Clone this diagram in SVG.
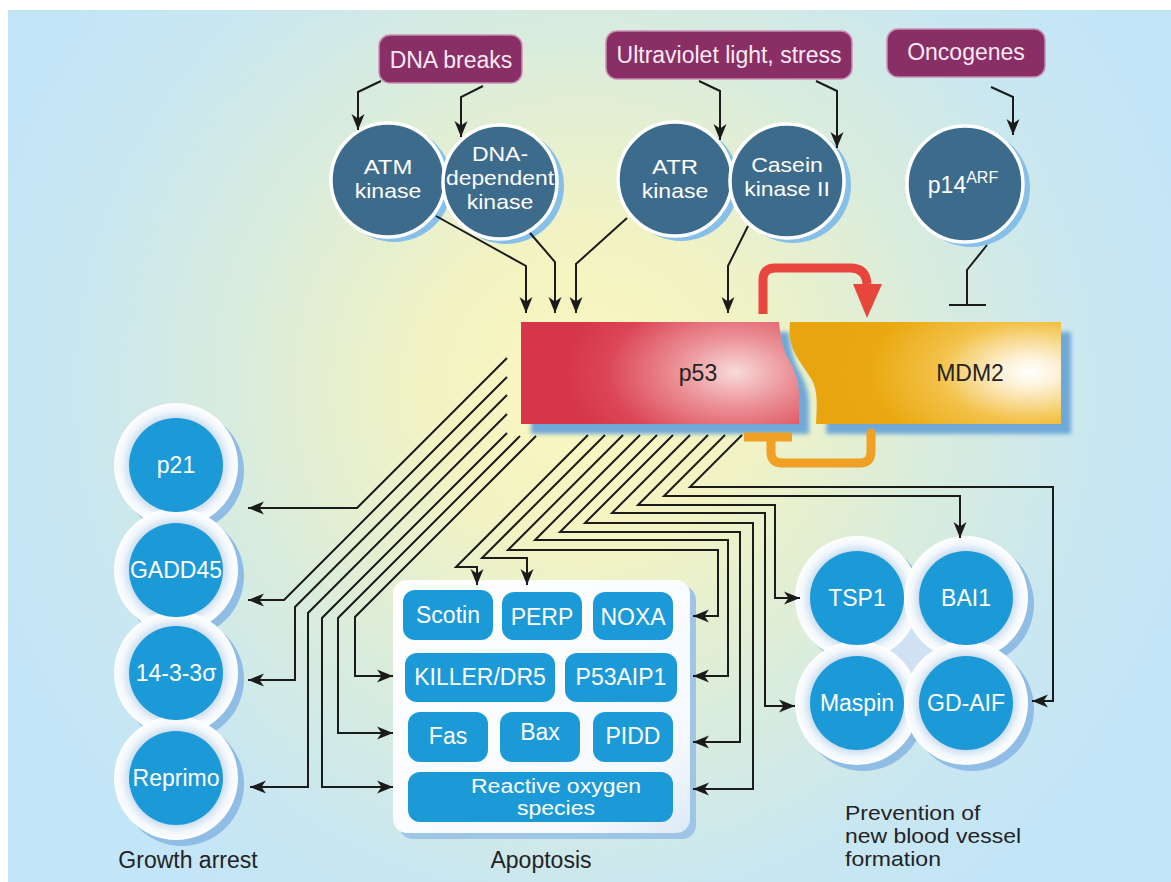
<svg xmlns="http://www.w3.org/2000/svg" width="1171" height="882" viewBox="0 0 1171 882">
<defs>
<radialGradient id="bg" gradientUnits="userSpaceOnUse" cx="585" cy="390" r="640">
<stop offset="0" stop-color="#fbf8bf"/>
<stop offset="0.25" stop-color="#f2f3c3"/>
<stop offset="0.55" stop-color="#d9ecdd"/>
<stop offset="0.8" stop-color="#c9e7f1"/>
<stop offset="1" stop-color="#c2e5f8"/>
</radialGradient>
<radialGradient id="p53g" gradientUnits="userSpaceOnUse" cx="735" cy="372" r="170" gradientTransform="translate(735 372) scale(1 0.6) translate(-735 -372)">
<stop offset="0" stop-color="#f8dada"/>
<stop offset="0.35" stop-color="#eb8f95"/>
<stop offset="0.75" stop-color="#dc4657"/>
<stop offset="1" stop-color="#d6364a"/>
</radialGradient>
<radialGradient id="mdmg" gradientUnits="userSpaceOnUse" cx="1030" cy="372" r="200" gradientTransform="translate(1030 372) scale(1 0.55) translate(-1030 -372)">
<stop offset="0" stop-color="#ffffff"/>
<stop offset="0.15" stop-color="#fdf1d4"/>
<stop offset="0.45" stop-color="#f3c24a"/>
<stop offset="0.8" stop-color="#eaa912"/>
<stop offset="1" stop-color="#e8a510"/>
</radialGradient>
<radialGradient id="ring" cx="0.5" cy="0.5" r="0.5">
<stop offset="0.74" stop-color="#c9dcef"/>
<stop offset="0.88" stop-color="#f2f7fc"/>
<stop offset="1" stop-color="#ffffff"/>
</radialGradient>
<linearGradient id="boxg" x1="0" y1="0" x2="1" y2="1">
<stop offset="0" stop-color="#ffffff"/>
<stop offset="0.8" stop-color="#f6f9fd"/>
<stop offset="1" stop-color="#dce9f6"/>
</linearGradient>
<filter id="soft" x="-10%" y="-10%" width="120%" height="130%"><feGaussianBlur stdDeviation="2"/></filter>
<marker id="ah" markerUnits="userSpaceOnUse" markerWidth="18" markerHeight="14" refX="16" refY="7" orient="auto">
<path d="M0,0.5 L16,7 L0,13.5 L4.5,7 Z" fill="#1b1b1b"/>
</marker>
<style>
.ln{fill:none;stroke:#1b1b1b;stroke-width:2;marker-end:url(#ah)}
.lnp{fill:none;stroke:#1b1b1b;stroke-width:2}
.pbox{fill:#8a2e66;stroke:#c690b3;stroke-width:1.5}
.ptxt{fill:#f8eaf3;font-family:"Liberation Sans",Arial,sans-serif;font-size:23px;text-anchor:middle}
.dk{fill:#3d6b8c;stroke:#ffffff;stroke-width:3.5}
.dks{fill:#86bfe8}
.wt{fill:#ffffff;font-family:"Liberation Sans",Arial,sans-serif;font-size:23px;text-anchor:middle}
.wt2{fill:#ffffff;font-family:"Liberation Sans",Arial,sans-serif;font-size:21px;text-anchor:middle}
.wt3{fill:#ffffff;font-family:"Liberation Sans",Arial,sans-serif;font-size:19.5px;text-anchor:middle}
.bl{fill:#1c9ad8}
.halo{fill:url(#ring)}
.hsh{fill:#8fbde6}
.lbl{fill:#232323;font-family:"Liberation Sans",Arial,sans-serif;font-size:23px}
.lbl2{fill:#232323;font-family:"Liberation Sans",Arial,sans-serif;font-size:20.5px}
.dtx{fill:#232323;font-family:"Liberation Sans",Arial,sans-serif;font-size:23px;text-anchor:middle}
</style>
</defs>
<rect x="0" y="0" width="1171" height="882" fill="#ffffff"/>
<rect x="8" y="10" width="1163" height="872" fill="url(#bg)"/>

<!-- stimuli -->
<g id="dna-breaks"><rect class="pbox" x="379" y="35" width="143" height="48" rx="11"/><text class="ptxt" x="451" y="68">DNA breaks</text></g>
<g id="uv-stress"><rect class="pbox" x="606" y="31" width="246" height="48" rx="11"/><text class="ptxt" x="729" y="63">Ultraviolet light, stress</text></g>
<g id="oncogenes"><rect class="pbox" x="887" y="29" width="158" height="48" rx="11"/><text class="ptxt" x="966" y="60">Oncogenes</text></g>

<!-- kinases -->
<g id="atm"><circle class="dks" cx="394" cy="184" r="58"/><circle class="dk" cx="388" cy="180" r="57"/><text class="wt2" x="388" y="174" textLength="48.6" lengthAdjust="spacingAndGlyphs">ATM</text><text class="wt2" x="388" y="198" textLength="66.5" lengthAdjust="spacingAndGlyphs">kinase</text></g>
<g id="dna-pk"><circle class="dks" cx="506" cy="186" r="58"/><circle class="dk" cx="500" cy="182" r="57"/><text class="wt2" x="500" y="161" textLength="56.2" lengthAdjust="spacingAndGlyphs">DNA-</text><text class="wt2" x="500" y="185" textLength="108" lengthAdjust="spacingAndGlyphs">dependent</text><text class="wt2" x="500" y="209" textLength="66.5" lengthAdjust="spacingAndGlyphs">kinase</text></g>
<g id="atr"><circle class="dks" cx="681" cy="183" r="58"/><circle class="dk" cx="675" cy="179" r="57"/><text class="wt2" x="675" y="174" textLength="46" lengthAdjust="spacingAndGlyphs">ATR</text><text class="wt2" x="675" y="198" textLength="66.5" lengthAdjust="spacingAndGlyphs">kinase</text></g>
<g id="ck2"><circle class="dks" cx="793" cy="185" r="58"/><circle class="dk" cx="787" cy="181" r="57"/><text class="wt2" x="787" y="172" textLength="71.6" lengthAdjust="spacingAndGlyphs">Casein</text><text class="wt2" x="787" y="196" textLength="85.7" lengthAdjust="spacingAndGlyphs">kinase II</text></g>
<g id="p14arf"><circle class="dks" cx="971" cy="188" r="59"/><circle class="dk" cx="965" cy="184" r="58"/><text class="wt" x="963" y="193">p14<tspan font-size="16" dy="-10">ARF</tspan></text></g>

<!-- p53 / MDM2 -->
<g id="p53">
<path d="M531 332 H789 C791 350 793 360 800 372 C807 385 809 395 809 405 V434 H531 Z" fill="#6fa9d8" filter="url(#soft)"/>
<path d="M521 322 H779 C781 340 783 350 790 362 C797 375 799 385 799 395 V424 H521 Z" fill="url(#p53g)"/>
<text class="dtx" x="698" y="381">p53</text>
</g>
<g id="mdm2">
<path d="M800 332 H1071 V434 H826 C827 415 828 402 822 390 C810 370 797 360 800 332 Z" fill="#6fa9d8" filter="url(#soft)"/>
<path d="M790 322 H1061 V424 H816 C817 405 818 392 812 380 C800 360 787 350 790 322 Z" fill="url(#mdmg)"/>
<text class="dtx" x="970" y="381">MDM2</text>
</g>

<!-- growth arrest -->
<g id="growth-halo">
<circle class="hsh" cx="182" cy="471" r="62"/><circle class="hsh" cx="182" cy="576" r="62"/><circle class="hsh" cx="182" cy="679" r="62"/><circle class="hsh" cx="182" cy="784" r="62"/>
<circle class="halo" cx="176" cy="465" r="62"/><circle class="halo" cx="176" cy="570" r="62"/><circle class="halo" cx="176" cy="673" r="62"/><circle class="halo" cx="176" cy="778" r="62"/>
</g>
<g id="p21"><circle class="bl" cx="176" cy="465" r="47"/><text class="wt" x="176" y="473">p21</text></g>
<g id="gadd45"><circle class="bl" cx="176" cy="570" r="47"/><text class="wt" x="176" y="578">GADD45</text></g>
<g id="s14-3-3"><circle class="bl" cx="176" cy="673" r="47"/><text class="wt" x="176" y="681">14-3-3σ</text></g>
<g id="reprimo"><circle class="bl" cx="176" cy="778" r="47"/><text class="wt" x="176" y="786">Reprimo</text></g>
<text class="lbl" x="188" y="868" text-anchor="middle">Growth arrest</text>

<!-- apoptosis -->
<g id="apoptosis">
<rect x="399" y="586" width="297" height="253" rx="14" fill="#9ec4e6"/>
<rect x="393" y="580" width="297" height="253" rx="14" fill="url(#boxg)"/>
<g id="scotin"><rect class="bl" x="403" y="590" width="90" height="50" rx="12"/><text class="wt" x="448" y="623">Scotin</text></g>
<g id="perp"><rect class="bl" x="502" y="592" width="80" height="48" rx="12"/><text class="wt" x="542" y="625">PERP</text></g>
<g id="noxa"><rect class="bl" x="593" y="592" width="80" height="48" rx="12"/><text class="wt" x="633" y="625">NOXA</text></g>
<g id="killer"><rect class="bl" x="405" y="653" width="150" height="49" rx="12"/><text class="wt" x="480" y="685">KILLER/DR5</text></g>
<g id="p53aip1"><rect class="bl" x="565" y="653" width="112" height="49" rx="12"/><text class="wt" x="621" y="685">P53AIP1</text></g>
<g id="fas"><rect class="bl" x="408" y="712" width="80" height="50" rx="12"/><text class="wt" x="448" y="744">Fas</text></g>
<g id="bax"><rect class="bl" x="500" y="712" width="80" height="50" rx="12"/><text class="wt" x="540" y="740">Bax</text></g>
<g id="pidd"><rect class="bl" x="593" y="712" width="80" height="50" rx="12"/><text class="wt" x="633" y="744">PIDD</text></g>
<g id="ros"><rect class="bl" x="408" y="772" width="265" height="50" rx="12"/><text class="wt3" x="556" y="793" textLength="170" lengthAdjust="spacingAndGlyphs">Reactive oxygen</text><text class="wt3" x="556" y="815" textLength="78" lengthAdjust="spacingAndGlyphs">species</text></g>
</g>
<text class="lbl" x="541" y="868" text-anchor="middle">Apoptosis</text>

<!-- angiogenesis -->
<g id="angio-halo">
<circle class="hsh" cx="863" cy="604" r="62"/><circle class="hsh" cx="972" cy="604" r="62"/><circle class="hsh" cx="863" cy="709" r="62"/><circle class="hsh" cx="972" cy="709" r="62"/>
<circle cx="912" cy="651" r="34" fill="#cfe2f3"/>
<circle class="halo" cx="857" cy="598" r="62"/><circle class="halo" cx="966" cy="598" r="62"/><circle class="halo" cx="857" cy="703" r="62"/><circle class="halo" cx="966" cy="703" r="62"/>
</g>
<g id="tsp1"><circle class="bl" cx="857" cy="598" r="47"/><text class="wt" x="857" y="606">TSP1</text></g>
<g id="bai1"><circle class="bl" cx="966" cy="598" r="47"/><text class="wt" x="966" y="606">BAI1</text></g>
<g id="maspin"><circle class="bl" cx="857" cy="703" r="47"/><text class="wt" x="857" y="711">Maspin</text></g>
<g id="gd-aif"><circle class="bl" cx="966" cy="703" r="47"/><text class="wt" x="966" y="711">GD-AIF</text></g>
<text class="lbl2" x="845" y="820" textLength="135.5" lengthAdjust="spacingAndGlyphs">Prevention of</text>
<text class="lbl2" x="845" y="843" textLength="176" lengthAdjust="spacingAndGlyphs">new blood vessel</text>
<text class="lbl2" x="845" y="866" textLength="96" lengthAdjust="spacingAndGlyphs">formation</text>

<!-- connectors -->
<g id="connectors">
<path class="ln" d="M381 81 L358 92 V130"/>
<path class="ln" d="M483 86 L461 97 V137"/>
<path class="ln" d="M699 81 L720 91 V140"/>
<path class="ln" d="M816 81 L837 91 V148"/>
<path class="ln" d="M991 87 L1013 97 V135"/>

<path class="ln" d="M436 216 L526 266 V313"/>
<path class="ln" d="M530 233 L555 262 V313"/>
<path class="ln" d="M627 218 L576 264 V313"/>
<path class="ln" d="M748 226 L728 266 V313"/>

<path class="lnp" d="M987 245 L967 270 V305 M949 305 H986"/>

<path d="M763 314 V280 Q763 268 775 268 H850 Q866 268 867 284" fill="none" stroke="#e8453c" stroke-width="9"/>
<polygon points="853,284 882,284 867,318" fill="#e8453c"/>
<path d="M871 433 V452 Q871 463 860 463 H782 Q771 463 771 452 V437" fill="none" stroke="#f0a024" stroke-width="9" stroke-linecap="round"/>
<path d="M744 437 H792" stroke="#f0a024" stroke-width="9"/>

<path class="ln" d="M507 358 L357 508 H248"/>
<path class="ln" d="M507 377 L284 600 H248"/>
<path class="ln" d="M507 395 L295 607 V680 H248"/>
<path class="ln" d="M507 414 L308 613 V787 H250"/>
<path class="ln" d="M507 433 L322 618 V787 H393"/>
<path class="ln" d="M520 436 L338 618 V733 H393"/>
<path class="ln" d="M536 436 L355 617 V676 H393"/>

<path class="ln" d="M742 435 L690 487 H1053 V701 H1032"/>
<path class="ln" d="M725 435 L664 496 H960 V538"/>
<path class="ln" d="M708 435 L638 505 H775 V598 H800"/>
<path class="ln" d="M690 435 L612 513 H765 V706 H795"/>
<path class="ln" d="M673 435 L585 523 H753 V789 H693"/>
<path class="ln" d="M657 435 L560 532 H740 V742 H693"/>
<path class="ln" d="M640 435 L535 540 H728 V676 H693"/>
<path class="ln" d="M623 435 L508 550 H718 V616 H693"/>
<path class="ln" d="M605 435 L482 558 H527 V585"/>
<path class="ln" d="M588 435 L456 567 H477 V585"/>
</g>
</svg>
